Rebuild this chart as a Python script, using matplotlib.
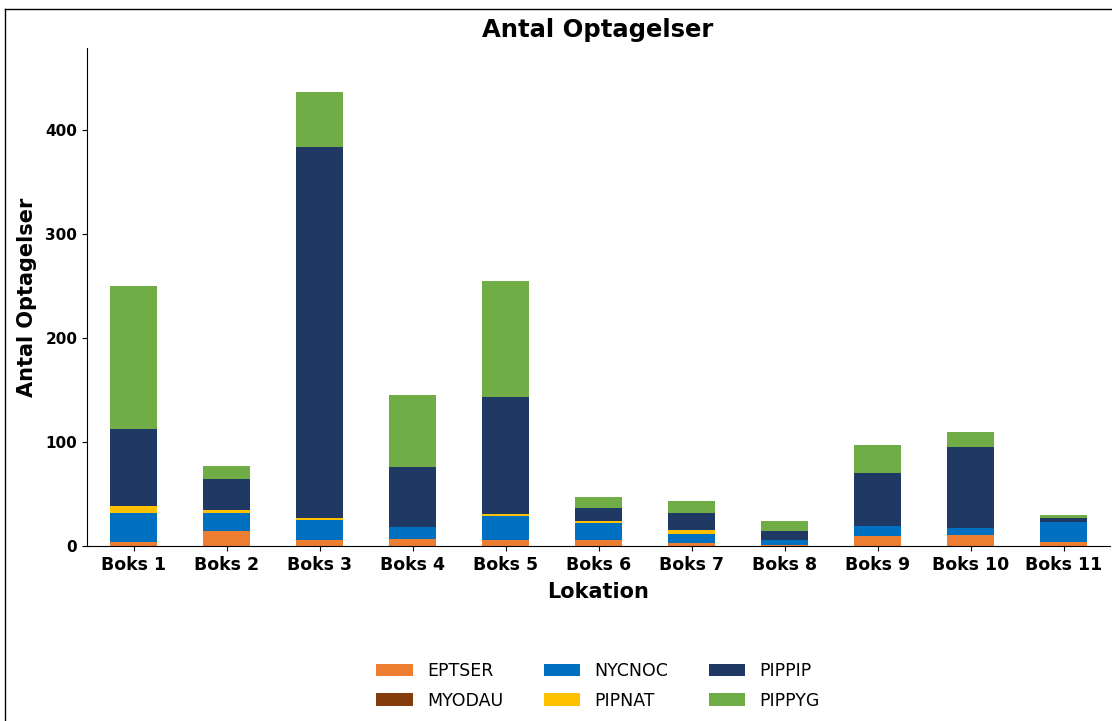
import matplotlib
matplotlib.use("Agg")
import matplotlib.pyplot as plt
import numpy as np
from matplotlib.lines import Line2D

locations = ["Boks 1", "Boks 2", "Boks 3", "Boks 4", "Boks 5", "Boks 6",
             "Boks 7", "Boks 8", "Boks 9", "Boks 10", "Boks 11"]
EPTSER = [4, 14, 6, 7, 6, 6, 3, 1, 10, 11, 4]
MYODAU = [0, 0, 0, 0, 0, 0, 0, 0, 0, 0, 0]
NYCNOC = [28, 18, 19, 11, 23, 16, 9, 5, 9, 6, 19]
PIPNAT = [6, 3, 2, 0, 2, 2, 3, 0, 0, 0, 0]
PIPPIP = [75, 29, 357, 58, 112, 13, 17, 8, 51, 78, 4]
PIPPYG = [137, 13, 53, 69, 112, 10, 11, 10, 27, 15, 3]

series_names = ["EPTSER", "MYODAU", "NYCNOC", "PIPNAT", "PIPPIP", "PIPPYG"]
series_values = [EPTSER, MYODAU, NYCNOC, PIPNAT, PIPPIP, PIPPYG]
colors = ["#ED7D31", "#843C0C", "#0070C0", "#FFC000", "#203864", "#70AD47"]

fig = plt.figure(figsize=(11.12, 7.21), dpi=100)
ax = fig.add_axes([87/1112, 1-546/721, (1110-87)/1112, (546-48)/721])

x = np.arange(len(locations))
bottom = np.zeros(len(locations))
for name, vals, c in zip(series_names, series_values, colors):
    v = np.array(vals, dtype=float)
    ax.bar(x, v, width=0.5, bottom=bottom, color=c, label=name)
    bottom += v

ax.set_xlim(-0.5, len(locations) - 0.5)
ax.set_ylim(0, 479)
ax.set_yticks([0, 100, 200, 300, 400])
ax.set_xticks(x)
ax.set_xticklabels(locations, fontsize=12.5, fontweight='bold')
for t in ax.get_yticklabels():
    t.set_fontsize(11)
    t.set_fontweight('bold')
ax.spines['top'].set_visible(False)
ax.spines['right'].set_visible(False)
ax.set_xlabel("Lokation", fontsize=15, fontweight='bold', labelpad=6)
ax.set_ylabel("Antal Optagelser", fontsize=15, fontweight='bold', labelpad=6)
fig.text(598/1112, 1-30/721, "Antal Optagelser", fontsize=17.5, fontweight='bold',
         ha='center', va='center')

fig.legend(loc='center', bbox_to_anchor=(598/1112, 1-686/721), ncol=3,
           frameon=False, fontsize=12.5, handlelength=2.1, handletextpad=0.8,
           columnspacing=2.35, labelspacing=0.65)

# figure border (left and top visible)
fig.add_artist(Line2D([5/1112, 5/1112], [0, 1-9/721], transform=fig.transFigure,
                      color='black', lw=1))
fig.add_artist(Line2D([5/1112, 1], [1-9/721, 1-9/721], transform=fig.transFigure,
                      color='black', lw=1))

fig.savefig("out.png", dpi=100)
